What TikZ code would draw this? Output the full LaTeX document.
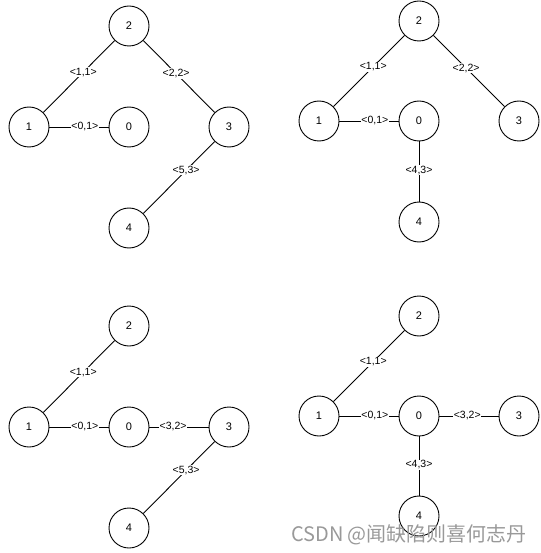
\documentclass[tikz,border=0pt]{standalone}
\usepackage{fontspec}
\setmainfont{Liberation Sans}
\newfontfamily\cjkfont{Noto Sans CJK SC}
\tikzset{
  vert/.style={draw, circle, minimum size=40pt, inner sep=0pt, line width=0.9pt,
    font=\fontsize{11}{13}\selectfont},
  wt/.style={fill=white, inner sep=0.8pt, font=\fontsize{10.5}{12}\selectfont},
}
\begin{document}
\begin{tikzpicture}[x=1pt, y=-1pt, line width=0.9pt]
  \useasboundingbox (0,0) rectangle (540,553);
  % top left
  \node[vert] (a2) at (129,26) {2}; \node[vert] (a1) at (29,127) {1};
  \node[vert] (a0) at (129,127) {0}; \node[vert] (a3) at (229,127) {3};
  \node[vert] (a4) at (129,228) {4};
  \draw (a2) -- (a1) node[wt, pos=0.44] {<1,1>};
  \draw (a2) -- (a3) node[wt, pos=0.46] {<2,2>};
  \draw (a1) -- (a0) node[wt, pos=0.6] {<0,1>};
  \draw (a3) -- (a4) node[wt, pos=0.4] {<5,3>};
  % top right
  \node[vert] (b2) at (419,21) {2}; \node[vert] (b1) at (319,121) {1};
  \node[vert] (b0) at (419,121) {0}; \node[vert] (b3) at (519,121) {3};
  \node[vert] (b4) at (419,222) {4};
  \draw (b2) -- (b1) node[wt, pos=0.44] {<1,1>};
  \draw (b2) -- (b3) node[wt, pos=0.46] {<2,2>};
  \draw (b1) -- (b0) node[wt, pos=0.6] {<0,1>};
  \draw (b0) -- (b4) node[wt, pos=0.48] {<4,3>};
  % bottom left
  \node[vert] (c2) at (129,326) {2}; \node[vert] (c1) at (29,427) {1};
  \node[vert] (c0) at (129,427) {0}; \node[vert] (c3) at (229,427) {3};
  \node[vert] (c4) at (129,528) {4};
  \draw (c2) -- (c1) node[wt, pos=0.44] {<1,1>};
  \draw (c1) -- (c0) node[wt, pos=0.6] {<0,1>};
  \draw (c0) -- (c3) node[wt, pos=0.4] {<3,2>};
  \draw (c3) -- (c4) node[wt, pos=0.4] {<5,3>};
  % bottom right
  \node[vert] (d2) at (419,316) {2}; \node[vert] (d1) at (319,416) {1};
  \node[vert] (d0) at (419,416) {0}; \node[vert] (d3) at (519,416) {3};
  \node[vert] (d4) at (419,516) {4};
  \draw (d2) -- (d1) node[wt, pos=0.44] {<1,1>};
  \draw (d1) -- (d0) node[wt, pos=0.6] {<0,1>};
  \draw (d0) -- (d3) node[wt, pos=0.47] {<3,2>};
  \draw (d0) -- (d4) node[wt, pos=0.48] {<4,3>};
  \node[text=black!40, font=\cjkfont\fontsize{20}{24}\selectfont, inner sep=0pt]
    (mark) at (409,535) {CSDN @闻缺陷则喜何志丹};
\end{tikzpicture}
\end{document}
